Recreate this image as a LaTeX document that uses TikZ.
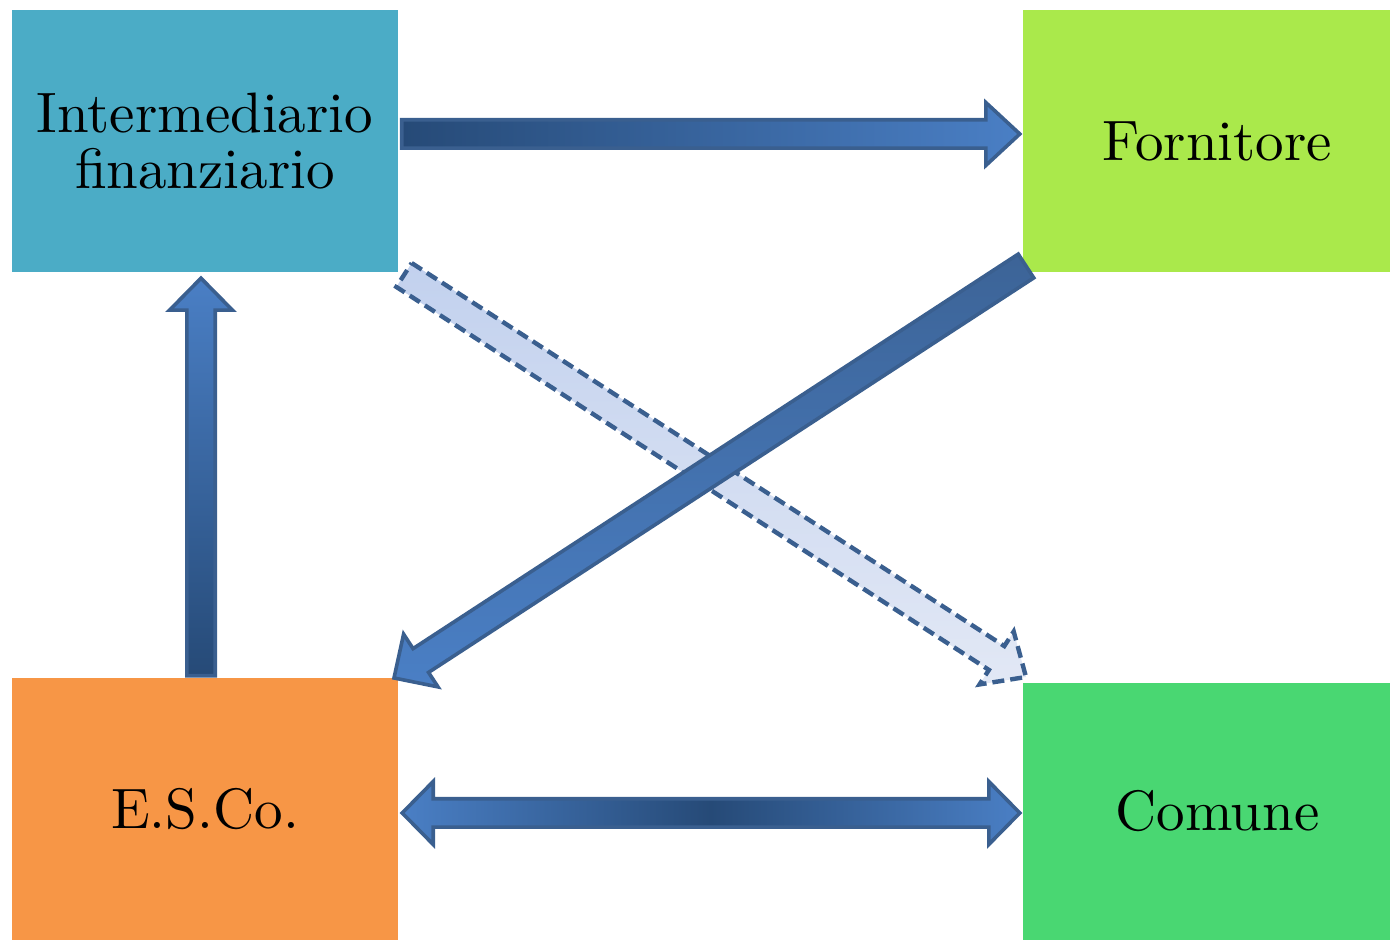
\documentclass[tikz,border=0pt]{standalone}
\usepackage{fontspec}
\usetikzlibrary{calc}

\newfontfamily\boxfont{lmroman10-regular}[Extension=.otf]

\definecolor{boxaqua}{HTML}{4BACC6}
\definecolor{boxlime}{HTML}{AAE94B}
\definecolor{boxorange}{HTML}{F79646}
\definecolor{boxgreen}{HTML}{49D772}
\definecolor{arrline}{HTML}{3A5F8F}
\definecolor{arrlight}{HTML}{4A7FC5}
\definecolor{arrdark}{HTML}{264A77}
\definecolor{lavdark}{HTML}{C2D1EE}
\definecolor{lavlight}{HTML}{E2E8F5}

\tikzstyle{actor}=[shape=rectangle,minimum width=386pt,minimum height=262pt,inner sep=0pt,align=center,font=\boxfont\fontsize{57}{56}\selectfont]
\tikzstyle{flow}=[draw=arrline,line width=3.6pt,line join=miter]

\newcommand{\shaftw}{14.2pt}
\newcommand{\headw}{31.5pt}
% block arrow: options, tail, tip, head length
\newcommand{\blockarrow}[4][]{%
  \coordinate (hb) at ($(#3)!#4!(#2)$);
  \path[flow,#1] ($(#2)!\shaftw!90:(#3)$) -- ($(hb)!\shaftw!90:(#3)$)
    -- ($(hb)!\headw!90:(#3)$) -- (#3) -- ($(hb)!\headw!-90:(#3)$)
    -- ($(hb)!\shaftw!-90:(#3)$) -- ($(#2)!\shaftw!-90:(#3)$) -- cycle;}
% double block arrow: options, end, end, head length
\newcommand{\doublearrow}[4][]{%
  \coordinate (ha) at ($(#2)!#4!(#3)$);
  \coordinate (hc) at ($(#3)!#4!(#2)$);
  \path[flow,#1] (#2) -- ($(ha)!\headw!90:(#3)$) -- ($(ha)!\shaftw!90:(#3)$)
    -- ($(hc)!\shaftw!-90:(#2)$) -- ($(hc)!\headw!-90:(#2)$) -- (#3)
    -- ($(hc)!\headw!90:(#2)$) -- ($(hc)!\shaftw!90:(#2)$)
    -- ($(ha)!\shaftw!-90:(#3)$) -- ($(ha)!\headw!-90:(#3)$) -- cycle;}

\begin{document}
\begin{tikzpicture}[x=1pt,y=1pt]
    \useasboundingbox (0,0) rectangle (1392,941);
    % actors
    \node[actor,fill=boxaqua] (inter) at (205,800) {Intermediario\\finanziario};
    \node[actor,fill=boxlime,minimum width=367pt] (forn) at (1206.5,800) {\hspace*{22pt}Fornitore};
    \node[actor,fill=boxorange] (esco) at (205,132) {E.S.Co.};
    \node[actor,fill=boxgreen,minimum width=367pt,minimum height=257pt] (comune) at (1206.5,129.5) {\hspace*{22pt}Comune};
    % arrow ends
    \coordinate (f1) at ([xshift=3.5pt,yshift=7pt]inter.east);
    \coordinate (f2) at ([xshift=-3pt,yshift=7pt]forn.west);
    \coordinate (e1) at ([xshift=-4pt,yshift=2pt]esco.north);
    \coordinate (e2) at ([xshift=-4pt,yshift=-6pt]inter.south);
    \coordinate (c1) at ([xshift=4pt,yshift=-4pt]esco.east);
    \coordinate (c2) at ([xshift=-3pt,yshift=-1.5pt]comune.west);
    \coordinate (d1) at (404,666);
    \coordinate (d2) at (1026,264);
    \coordinate (s1) at (1026,675);
    \coordinate (s2) at (394,263);
    % flows
    \blockarrow[left color=arrdark,right color=arrlight]{f1}{f2}{34pt}
    \blockarrow[bottom color=arrdark,top color=arrlight]{e1}{e2}{32pt}
    \doublearrow[left color=arrlight,right color=arrlight,middle color=arrdark]{c1}{c2}{31pt}
    \blockarrow[top color=lavdark,bottom color=lavlight,line width=4.4pt,dash pattern=on 12pt off 6pt]{d1}{d2}{35pt}
    \blockarrow[top color=arrline!85!arrlight,bottom color=arrlight]{s1}{s2}{32pt}
\end{tikzpicture}
\end{document}
